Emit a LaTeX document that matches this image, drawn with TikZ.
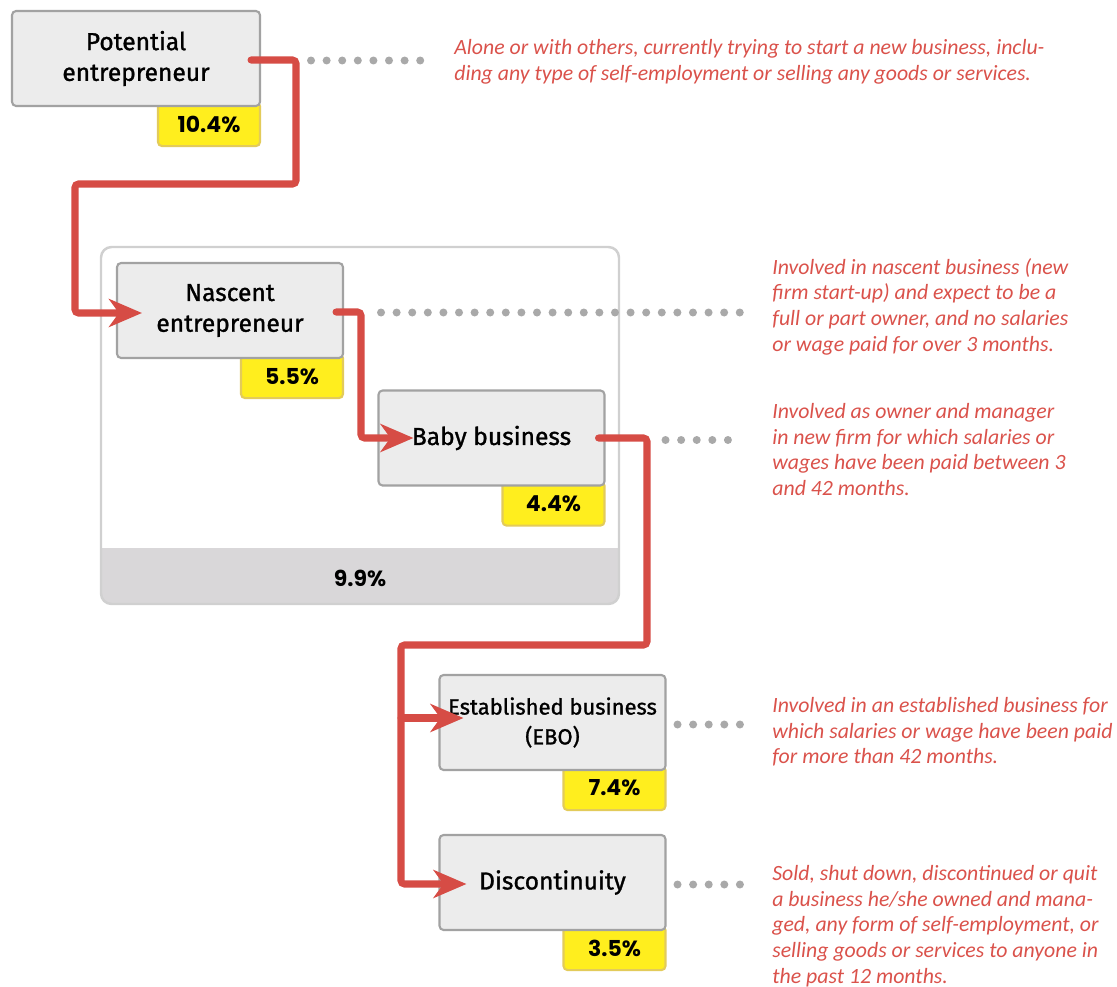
\documentclass[tikz,border=0pt]{standalone}
\usepackage{fontspec}
\setmainfont{Carlito}
\newfontfamily\pctfont{Poppins}
\newfontfamily\stagefont[FakeBold=1.2]{Fira Sans}
\usetikzlibrary{arrows.meta,calc,backgrounds}

\definecolor{flowred}{HTML}{D64C45}
\definecolor{textred}{HTML}{DA524B}
\definecolor{boxfill}{HTML}{ECECEC}
\definecolor{boxline}{HTML}{A2A2A2}
\definecolor{tagyellow}{HTML}{FFEE1E}
\definecolor{tagline}{HTML}{E3CB5A}
\definecolor{grpline}{HTML}{D0D0D0}
\definecolor{grpband}{HTML}{D9D7D9}
\definecolor{dotgray}{HTML}{A9A9A9}

\tikzset{
  stage/.style={draw=boxline, fill=boxfill, line width=1.2pt, rounded corners=2.3pt,
    minimum height=1.9cm, minimum width=4.52cm, align=center,
    font=\stagefont\fontsize{14}{17.5}\selectfont},
  tag/.style={draw=tagline, fill=tagyellow, line width=1.2pt, rounded corners=2.3pt,
    minimum width=2.04cm, minimum height=0.88cm, anchor=north east, yshift=0.12cm,
    font=\pctfont\bfseries\fontsize{12.5}{14}\selectfont},
  note/.style={anchor=north west, inner sep=0pt, align=left, text=textred,
    font=\itshape\fontsize{12.4}{14.6}\selectfont},
  flow/.style={draw=flowred, line width=4pt, rounded corners=2pt, line cap=round},
  flowtip/.style={-{Stealth[length=0.66cm, width=0.56cm, inset=0.2cm]}},
  dots/.style={draw=dotgray, line width=0.16cm, line cap=round, dash pattern=on 0pt off 0.312cm},
}

\begin{document}
\begin{tikzpicture}[x=0.02cm, y=-0.02cm]
    \useasboundingbox (0,0) rectangle (1117,987);

    % Early-stage group
    \begin{scope}
        \clip[rounded corners=6pt] (101,247) rectangle (619,604);
        \fill[grpband] (101,548) rectangle (619,604);
    \end{scope}
    \draw[grpline, line width=1.4pt, rounded corners=6pt] (101,247) rectangle (619,604);
    \node[font=\pctfont\bfseries\fontsize{12.5}{14}\selectfont] (tea) at (360,578) {9.9\%};

    % Stages
    \node[stage, minimum width=4.96cm] (pot) at (136,58.5) {Potential\\entrepreneur};
    \node[stage] (nas) at (230,310.5) {Nascent\\entrepreneur};
    \node[stage] (baby) at (491.5,438) {Baby business};
    \node[stage, font=\stagefont\fontsize{12.5}{17}\selectfont] (ebo) at (552.5,722.5) {Established business\\(EBO)};
    \node[stage] (dis) at (552.5,882.5) {Discontinuity};

    % Percentages
    \begin{scope}[on background layer]
        \foreach \b/\v in {pot/10.4, nas/5.5, baby/4.4, ebo/7.4, dis/3.5}
            \node[tag] (\b-pct) at (\b.south east) {\raisebox{-0.06cm}{\v\%}};
    \end{scope}

    % Flow
    \coordinate (j1) at (296,184);
    \coordinate (j2) at (75,184);
    \draw[flow, flowtip] ($(pot.east)+(-10,1.5)$) -| (j1) -- (j2) |- ($(nas.west)+(26,2.5)$);
    \coordinate (k1) at (361,312);
    \draw[flow, flowtip] ($(nas.east)+(-8,1.5)$) -- (k1) |- ($(baby.west)+(36,0)$);
    \coordinate (m1) at (647,645);
    \coordinate (m2) at (401,645);
    \coordinate (m3) at (401,718);
    \draw[flow, flowtip] ($(baby.east)+(-7,0)$) -| (m1) -- (m2) |- ($(dis.west)+(28,1.5)$);
    \draw[flow, flowtip] (m3) -- ($(ebo.west)+(25,-4.5)$);

    % Descriptions
    \node[note] (d1) at (454,39) {Alone or with others, currently trying to start a new business, inclu-\\ding any type of self-employment or selling any goods or services.};
    \node[note] (d2) at (772,258) {Involved in nascent business (new\\firm start-up) and expect to be a\\full or part owner, and no salaries\\or wage paid for over 3 months.};
    \node[note] (d3) at (772,403) {Involved as owner and manager\\in new firm for which salaries or\\wages have been paid between 3\\and 42 months.};
    \node[note] (d4) at (772,697) {Involved in an established business for\\which salaries or wage have been paid\\for more than 42 months.};
    \node[note] (d5) at (772,865) {Sold, shut down, discontinued or quit\\a business he/she owned and mana-\\ged, any form of self-employment, or\\selling goods or services to anyone in\\the past 12 months.};

    % Leaders
    \foreach \b/\d/\s/\g in {pot/d1/50/19, nas/d2/37/32, baby/d3/60/30, ebo/d4/11/22, dis/d5/11/22}
        \draw[dots] ($(\b.east)+(\s,2)$) -- ($(\b.east -| \d.west)+(-\g,2)$);
\end{tikzpicture}
\end{document}
